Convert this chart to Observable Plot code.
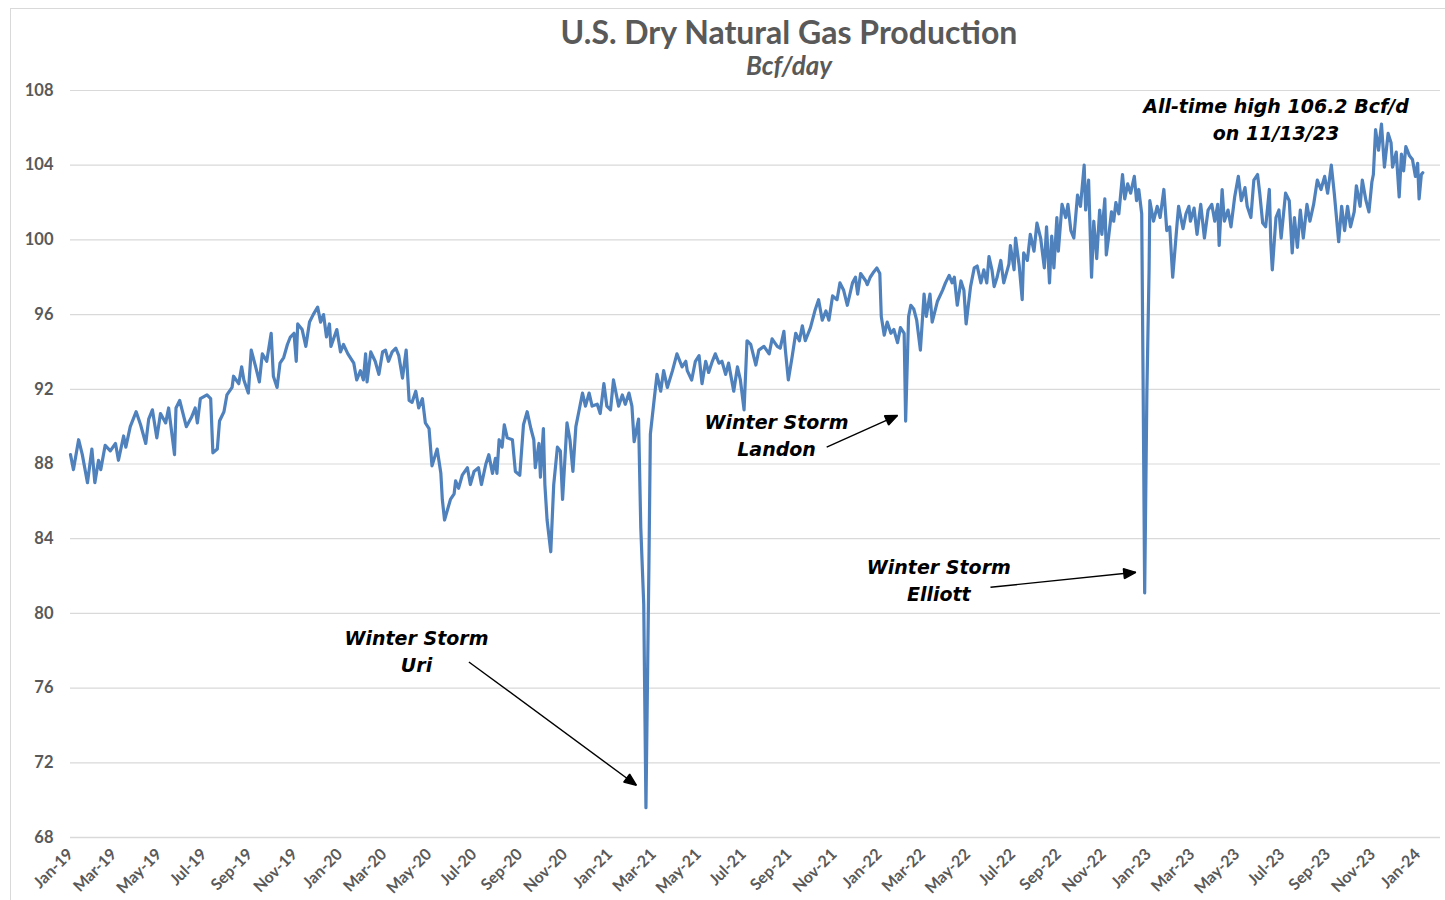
<!DOCTYPE html>
<html>
<head>
<meta charset="utf-8">
<script src="https://cdn.jsdelivr.net/npm/d3@7"></script>
<script src="https://cdn.jsdelivr.net/npm/@observablehq/plot@0.6"></script>
<style>
  html, body { margin: 0; padding: 0; background: #fff; }
  #wrap { position: relative; width: 1445px; height: 900px; overflow: hidden; }
  #frame { position: absolute; left: 10px; top: 8px; width: 1500px; height: 1000px; border: 1px solid #d9d9d9; box-sizing: border-box; pointer-events: none; }
  #head { position: relative; width: 1445px; height: 80px; }
  #title { position: absolute; left: 789px; top: 13px; transform: translateX(-50%); white-space: nowrap;
           font-family: Lato, "Open Sans", sans-serif; font-weight: 700; font-size: 32px; line-height: 38px; color: #595959; }
  #subtitle { position: absolute; left: 789px; top: 50px; transform: translateX(-50%); white-space: nowrap;
           font-family: Lato, "Open Sans", sans-serif; font-weight: 700; font-style: italic; font-size: 26px; line-height: 30px; color: #595959; }
  #chart svg { display: block; }
</style>
</head>
<body>
<div id="wrap">
  <div id="frame"></div>
  <div id="head">
    <div id="title">U.S. Dry Natural Gas Production</div>
    <div id="subtitle">Bcf/day</div>
  </div>
  <div id="chart"></div>
</div>
<script>
// ---- Data (Bcf/day), by year ----
const dates2019 = ["01-01","01-05","01-12","01-17","01-24","01-30","02-03","02-08","02-11","02-17","02-24","03-03","03-07","03-14","03-17","03-23","03-31","04-06","04-13","04-17","04-22","04-28","05-03","05-10","05-14","05-22","05-24","05-29","06-07","06-14","06-19","06-22","06-26","07-05","07-10","07-13","07-19","07-22","07-28","08-01","08-08","08-10","08-17","08-21","08-24","08-30","09-03","09-09","09-14","09-18","09-24","09-30","10-03","10-08","10-12","10-17","10-22","10-26","10-31","11-03","11-05","11-11","11-16","11-21","11-26","12-02","12-06","12-10","12-14","12-18","12-20","12-28"];
const values2019 = [88.5,87.7,89.3,88.5,87.0,88.8,87.0,88.2,87.7,89.0,88.7,89.1,88.2,89.5,88.9,90.0,90.8,90.1,89.1,90.4,90.9,89.4,90.7,90.2,91.0,88.5,91.0,91.4,90.0,90.5,91.0,90.2,91.5,91.7,91.5,88.6,88.8,90.3,90.8,91.7,92.1,92.7,92.3,93.2,92.5,91.8,94.1,93.2,92.4,93.9,93.5,95.0,92.7,92.1,93.4,93.7,94.4,94.8,95.0,93.5,95.5,95.2,94.3,95.6,96.0,96.4,95.6,96.0,94.8,95.5,94.3,95.2];

const dates2020 = ["01-02","01-06","01-12","01-20","01-24","01-29","02-02","02-05","02-07","02-12","02-18","02-23","02-28","03-03","03-07","03-12","03-17","03-21","03-26","03-31","04-04","04-08","04-13","04-17","04-22","04-26","05-01","05-05","05-12","05-17","05-19","05-22","05-30","06-04","06-06","06-10","06-15","06-22","06-26","07-01","07-07","07-11","07-17","07-21","07-26","07-30","08-01","08-04","08-08","08-11","08-15","08-22","08-26","09-01","09-06","09-11","09-16","09-20","09-22","09-27","09-29","10-03","10-05","10-08","10-13","10-17","10-22","10-26","10-29","11-04","11-08","11-12","11-16","11-20","11-25","11-29","12-04","12-08","12-15","12-19","12-24","12-28"];
const values2020 = [94.0,94.4,93.9,93.4,92.5,93.0,92.5,93.9,92.4,94.0,93.5,92.8,94.0,94.1,93.5,94.0,94.2,93.8,92.6,94.1,91.4,91.3,91.9,91.0,91.5,90.2,89.9,87.9,88.8,87.5,86.1,85.0,86.1,86.4,87.1,86.7,87.4,87.8,86.9,87.6,87.8,86.9,88.0,88.5,87.5,88.3,87.5,89.3,88.9,90.1,89.4,89.3,87.6,87.4,90.1,90.8,89.9,89.3,87.8,89.1,87.3,89.9,86.9,85.0,83.3,86.9,88.9,88.7,86.1,90.2,89.3,87.6,90.0,90.8,91.8,91.1,91.8,91.1,91.2,90.7,92.3,91.1];

const dates2021 = ["01-02","01-06","01-13","01-18","01-22","01-27","01-31","02-03","02-09","02-12","02-16","02-19","02-23","02-25","03-02","03-06","03-11","03-15","03-20","03-27","04-02","04-09","04-14","04-16","04-22","04-27","05-02","05-06","05-11","05-15","05-20","05-24","05-29","06-02","06-07","06-11","06-18","06-23","06-27","07-02","07-06","07-11","07-18","07-22","07-29","08-05","08-09","08-16","08-20","08-25","08-27","08-31","09-05","09-10","09-15","09-19","09-23","09-30","10-06","10-11","10-16","10-21","10-25","10-30","11-05","11-09","11-14","11-19","11-26","11-30","12-03","12-07","12-14","12-16","12-20","12-25","12-29"];
const values2021 = [90.9,92.5,91.1,91.7,91.2,91.8,91.1,89.2,90.4,84.6,80.5,69.6,82.5,89.6,91.4,92.8,91.9,93.0,92.1,93.0,93.9,93.2,93.5,93.0,92.5,93.5,93.8,92.3,93.5,92.9,93.5,93.9,93.4,93.5,92.8,93.4,91.9,93.2,92.5,90.9,94.6,94.4,93.3,94.1,94.3,93.9,94.7,94.3,94.2,95.1,94.1,92.5,93.7,95.0,94.6,95.4,94.6,95.3,96.2,96.8,95.7,96.2,95.7,97.0,96.8,97.7,97.3,96.5,97.7,98.0,97.1,98.2,97.8,97.6,98.0,98.3,98.5];

const dates2022 = ["01-02","01-04","01-08","01-12","01-17","01-21","01-26","01-30","02-04","02-06","02-10","02-13","02-17","02-21","02-26","03-03","03-06","03-11","03-14","03-21","03-28","04-01","04-06","04-10","04-13","04-17","04-22","04-26","04-29","05-05","05-10","05-14","05-19","05-23","05-27","05-30","06-03","06-06","06-10","06-15","06-19","06-26","06-28","07-03","07-05","07-10","07-14","07-16","07-21","07-25","07-30","08-03","08-08","08-13","08-16","08-20","08-23","08-26","08-30","09-01","09-06","09-11","09-14","09-18","09-22","09-27","10-01","10-06","10-08","10-12","10-16","10-19","10-23","10-27","10-30","11-03","11-05","11-08","11-12","11-15","11-18","11-22","11-27","11-30","12-04","12-08","12-13","12-16","12-19","12-23","12-25","12-27","12-30"];
const values2022 = [98.2,95.9,94.9,95.6,95.0,95.2,94.5,95.3,95.0,90.3,95.9,96.5,96.3,95.7,94.1,97.1,95.9,97.1,95.6,96.7,97.3,97.7,98.1,97.7,98.0,96.5,97.8,97.3,95.5,97.5,98.5,98.6,97.7,98.4,97.7,99.1,98.4,97.5,98.0,98.9,97.7,98.7,99.7,98.4,100.1,98.6,96.8,99.3,98.9,100.3,99.4,100.9,100.1,98.5,100.7,97.7,100.2,98.5,101.2,99.4,101.9,101.2,101.9,100.5,100.1,102.4,101.8,104.0,101.6,103.2,98.0,101.0,99.0,101.6,100.3,102.2,99.2,100.1,101.5,101.0,102.0,101.4,103.5,102.2,103.0,102.5,103.4,102.1,102.7,101.4,91.8,81.1,91.8];

const dates2023 = ["01-02","01-03","01-08","01-13","01-17","01-22","01-26","01-30","02-03","02-09","02-11","02-17","02-21","02-25","02-27","03-04","03-08","03-13","03-18","03-23","03-28","04-01","04-05","04-07","04-11","04-14","04-19","04-23","04-28","05-03","05-07","05-12","05-15","05-20","05-24","05-29","06-01","06-05","06-09","06-14","06-16","06-18","06-23","06-27","06-30","07-06","07-11","07-15","07-18","07-22","07-26","07-30","08-04","08-08","08-13","08-18","08-23","08-28","09-01","09-06","09-10","09-16","09-20","09-24","09-28","10-02","10-07","10-10","10-15","10-18","10-23","10-27","10-31","11-02","11-05","11-09","11-13","11-17","11-22","11-26","11-28","12-03","12-07","12-10","12-13","12-16","12-21","12-25","12-29"];
const values2023 = [98.4,102.1,101.0,101.8,101.2,102.7,100.5,100.7,98.0,100.9,101.8,100.6,101.4,101.8,101.0,101.7,100.3,101.9,100.1,101.6,101.9,101.0,101.9,99.7,102.7,101.0,101.6,100.7,102.3,103.4,102.1,102.8,101.8,101.2,103.2,103.5,102.5,100.9,100.7,102.7,99.8,98.4,101.2,101.6,100.1,102.5,102.1,99.3,101.2,99.6,101.6,100.1,101.9,101.0,101.9,103.2,102.7,103.4,102.5,104.0,102.5,99.9,101.8,100.5,101.8,100.7,101.5,102.9,101.8,103.2,102.1,101.5,103.1,103.5,105.9,104.8,106.2,103.9,105.7,105.2,103.9,104.7,102.3,104.6,103.7,105.0,104.5,104.3,103.4];

const dates2024 = ["01-01","01-03","01-06","01-08"];
const values2024 = [104.1,102.2,103.5,103.6];

const yTicks = [68, 72, 76, 80, 84, 88, 92, 96, 100, 104, 108];
const xTickStart = "2019-01-01", xTickEnd = "2024-01-01";   // labels every 2 months
const xDomain = ["2019-01-01", "2024-02-01"];

const annoText = [
  {date: "2020-04-14", value: 78.05, label: "Winter Storm\nUri"},
  {date: "2021-08-15", value: 89.6, label: "Winter Storm\nLandon"},
  {date: "2022-03-23", value: 81.85, label: "Winter Storm\nElliott"},
  {date: "2023-06-23", value: 106.52, label: "All-time high 106.2 Bcf/d\non 11/13/23"}
];
const annoArrows = [
  {from: "2020-06-24", v1: 77.4, to: "2021-02-06", v2: 70.8},
  {from: "2021-10-22", v1: 88.9, to: "2022-01-26", v2: 90.6},
  {from: "2022-06-01", v1: 81.4, to: "2022-12-15", v2: 82.2}
];

// ---- Build table ----
const years = [
  ["2019", dates2019, values2019], ["2020", dates2020, values2020], ["2021", dates2021, values2021],
  ["2022", dates2022, values2022], ["2023", dates2023, values2023], ["2024", dates2024, values2024]
];
const series = [];
for (const [yr, ds, vs] of years) ds.forEach((d, i) => series.push({date: new Date(`${yr}-${d}`), value: vs[i]}));

const texts = annoText.map(a => ({...a, date: new Date(a.date)}));
const arrows = annoArrows.map(a => ({x1: new Date(a.from), y1: a.v1, x2: new Date(a.to), y2: a.v2}));
const xTicks = d3.utcMonth.every(2).range(new Date(xTickStart), d3.utcDay.offset(new Date(xTickEnd), 1));

// filled triangular arrowheads drawn at the scaled end of each link
function arrowHeads(index, scales, values, dimensions, context, next) {
  const g = next(index, scales, values, dimensions, context);
  const {x1: X1, y1: Y1, x2: X2, y2: Y2} = values;
  const ns = "http://www.w3.org/2000/svg";
  const len = 12, half = 5;
  for (const i of index) {
    const dx = X2[i] - X1[i], dy = Y2[i] - Y1[i];
    const L = Math.hypot(dx, dy), ux = dx / L, uy = dy / L;
    const bx = X2[i] - ux * len, by = Y2[i] - uy * len;
    const p = document.createElementNS(ns, "polygon");
    p.setAttribute("points", `${X2[i]},${Y2[i]} ${bx - uy * half},${by + ux * half} ${bx + uy * half},${by - ux * half}`);
    p.setAttribute("fill", "#000");
    g.appendChild(p);
  }
  return g;
}

const plot = Plot.plot({
  width: 1445,
  height: 820,
  marginTop: 10,
  marginBottom: 63,
  marginLeft: 70,
  marginRight: 5,
  style: {fontFamily: "Lato, 'Open Sans', sans-serif", color: "#595959", background: "#fff", overflow: "visible"},
  x: {type: "utc", domain: xDomain.map(d => new Date(d))},
  y: {domain: [68, 108]},
  marks: [
    Plot.gridY(yTicks, {stroke: "#d9d9d9", strokeOpacity: 1, strokeWidth: 1.2}),
    Plot.ruleY([68], {stroke: "#d9d9d9", strokeWidth: 1.5}),
    Plot.axisY(yTicks, {tickSize: 0, tickPadding: 17, fontWeight: "bold", fontSize: 16.5, label: null, tickFormat: d => String(d)}),
    Plot.axisX(xTicks, {tickSize: 0, tickPadding: 14, tickRotate: -45, fontWeight: "bold", fontSize: 16, label: null, tickFormat: d3.utcFormat("%b-%y")}),
    Plot.line(series, {x: "date", y: "value", stroke: "#4f81bd", strokeWidth: 3.2, strokeLinejoin: "round"}),
    Plot.link(arrows, {x1: "x1", y1: "y1", x2: "x2", y2: "y2", stroke: "#000", strokeWidth: 1.4, render: arrowHeads}),
    Plot.text(texts, {x: "date", y: "value", text: "label", fill: "#000", fontFamily: "'DejaVu Sans', Verdana, sans-serif",
      fontWeight: "bold", fontStyle: "italic", fontSize: 19, lineHeight: 1.42, textAnchor: "middle", lineAnchor: "middle"})
  ]
});
document.getElementById("chart").appendChild(plot);
</script>
</body>
</html>
